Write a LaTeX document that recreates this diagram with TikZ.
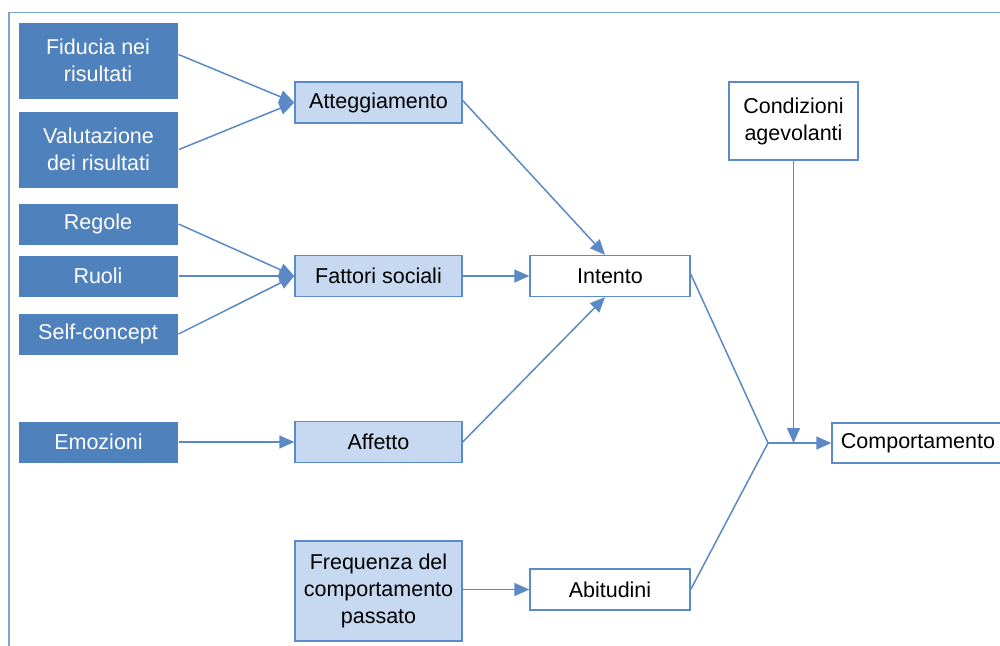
\documentclass[tikz,border=0pt]{standalone}
\usepackage{fontspec}
\setmainfont{Liberation Sans}
\usetikzlibrary{arrows.meta,positioning,calc}
\definecolor{darkblue}{HTML}{4F81BD}
\definecolor{paleblue}{HTML}{C6D9F1}
\definecolor{edgeblue}{HTML}{5B8BC8}
\definecolor{linkblue}{HTML}{5A89C6}
\definecolor{framecol}{HTML}{7BA3D4}
\tikzset{
  box/.style={rectangle, inner sep=0pt, align=center, font=\fontsize{21.5}{27}\selectfont},
  source/.style={box, fill=darkblue, draw=white, line width=1pt, text=white},
  factor/.style={box, fill=paleblue, draw=edgeblue, line width=1.4pt, text=black},
  outcome/.style={box, fill=white, draw=edgeblue, line width=1.4pt, text=black},
  link/.style={draw=linkblue, line width=1.5pt},
  arr/.style={link, -{Triangle[length=15pt,width=13pt]}},
}
\begin{document}
\begin{tikzpicture}[x=1pt,y=-1pt]
\useasboundingbox (0,0) rectangle (1000,645);
% outer frame (top and left edges)
\draw[framecol, line width=1.6pt] (9,660) -- (9,12.5) -- (1010,12.5);

% first column: sources
\node[source, minimum width=160pt, minimum height=77pt] (fid) at (98,60.5) {Fiducia nei\\risultati};
\node[source, minimum width=160pt, minimum height=77pt] (val) at (98.5,149.5) {Valutazione\\dei risultati};
\node[source, minimum width=160pt, minimum height=42pt] (reg) at (98,224) {Regole};
\node[source, minimum width=160pt, minimum height=42pt] (ruo) at (98,276) {Ruoli};
\node[source, minimum width=160pt, minimum height=42pt] (sel) at (98,334) {Self-concept};
\node[source, minimum width=160pt, minimum height=42pt] (emo) at (98.5,442) {Emozioni};

% second column: factors
\node[factor, minimum width=167pt, minimum height=41pt] (att) at (378.5,102.5) {Atteggiamento};
\node[factor, minimum width=167pt, minimum height=41pt] (fat) at (378.5,276) {Fattori sociali};
\node[factor, minimum width=167pt, minimum height=41pt] (aff) at (378.5,442) {Affetto};
\node[factor, minimum width=167pt, minimum height=100pt] (fre) at (378.5,591) {Frequenza del\\comportamento\\passato};

% third column
\node[outcome, minimum width=160pt, minimum height=41pt] (int) at (610,276) {Intento};
\node[outcome, minimum width=160pt, minimum height=41pt] (abi) at (610,589.5) {Abitudini};
\node[outcome, minimum width=129pt, minimum height=78pt] (con) at (793.5,121) {Condizioni\\agevolanti};
\node[outcome, minimum width=172pt, minimum height=40pt] (com) at (918,443) {Comportamento};
\coordinate (jn) at (768,443);

% connectors
\draw[arr] ([yshift=6pt]fid.east) -- (att.west);
\draw[arr] (val.east) -- (att.west);
\draw[arr] (reg.east) -- (fat.west);
\draw[arr] (ruo.east) -- (fat.west);
\draw[arr] (sel.east) -- (fat.west);
\draw[arr] (emo.east) -- (aff.west);
\draw[arr] ([yshift=2pt]att.east) -- (int.north -| 605,0);
\draw[arr] (fat.east) -- (int.west);
\draw[arr] (aff.east) -- (int.south -| 605,0);
\draw[arr] (fre.east |- abi.west) -- (abi.west);
\draw[link] ([yshift=2pt]int.east) -- (jn);
\draw[link] (abi.east) -- (jn);
\draw[arr] (jn) -- (com.west);
\draw[arr] (con.south) -- (con.south |- jn);
\end{tikzpicture}
\end{document}
